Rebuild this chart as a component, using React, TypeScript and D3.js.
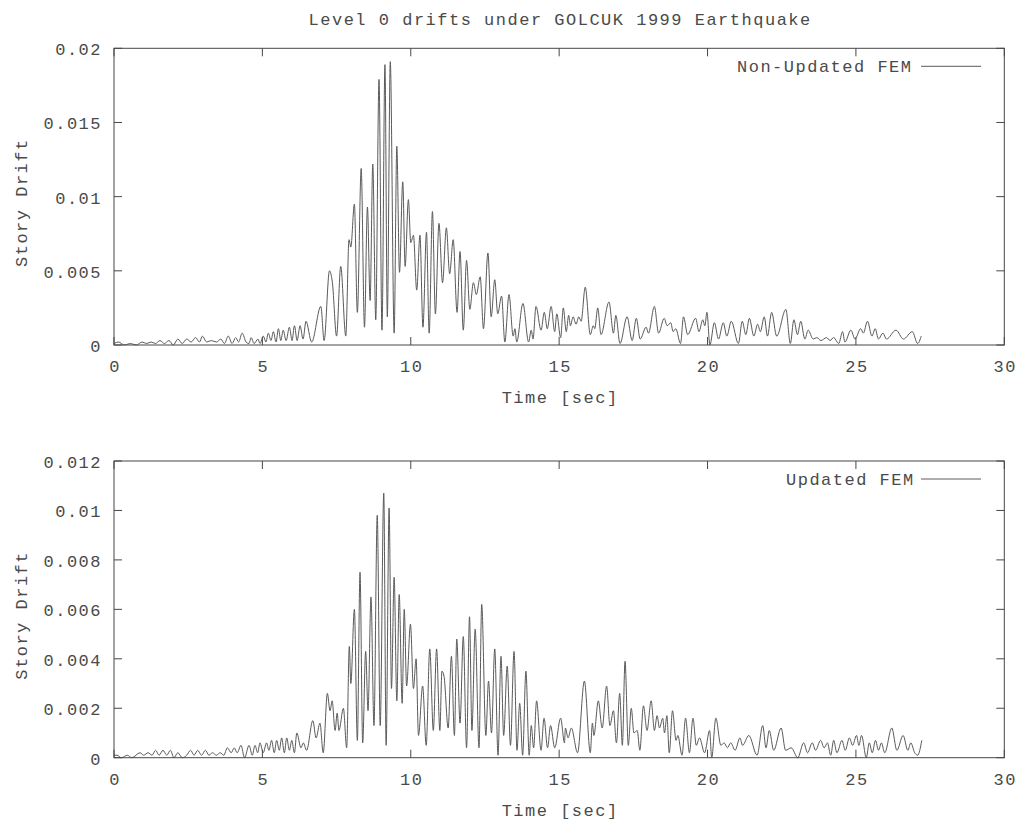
import React from "react";
import * as d3 from "d3";

const titleText = "Level 0 drifts under GOLCUK 1999 Earthquake";
const xLabelText = "Time [sec]";
const yLabelText = "Story Drift";
const xTickValues = [0, 5, 10, 15, 20, 25, 30];
const topYTicks = [0, 0.005, 0.01, 0.015, 0.02];
const topYTickLabels = ["0", "0.005", "0.01", "0.015", "0.02"];
const bottomYTicks = [0, 0.002, 0.004, 0.006, 0.008, 0.01, 0.012];
const bottomYTickLabels = ["0", "0.002", "0.004", "0.006", "0.008", "0.01", "0.012"];
const topSeriesName = "Non-Updated FEM";
const bottomSeriesName = "Updated FEM";

// Non-Updated FEM: local extrema (time in s, drift)
const topTime = [
  0.0, 0.15, 0.35, 0.55, 0.75, 0.95, 1.1, 1.25, 1.4, 1.55, 1.7, 1.85, 2.0, 2.15, 2.3, 2.45, 2.6, 2.75, 2.88, 2.98,
  3.12, 3.28, 3.45, 3.6, 3.72, 3.85, 3.98, 4.1, 4.2, 4.32, 4.45, 4.55, 4.62, 4.72, 4.85, 4.92, 5.03, 5.12, 5.2, 5.29,
  5.37, 5.46, 5.54, 5.62, 5.7, 5.8, 5.91, 6.0, 6.08, 6.17, 6.27, 6.37, 6.47, 6.66, 6.97, 7.08, 7.26, 7.36, 7.5, 7.64,
  7.81, 7.92, 7.98, 8.1, 8.2, 8.33, 8.44, 8.54, 8.63, 8.72, 8.82, 8.93, 9.03, 9.13, 9.21, 9.31, 9.44, 9.53, 9.62, 9.73,
  9.81, 9.92, 10.0, 10.09, 10.2, 10.31, 10.41, 10.53, 10.62, 10.73, 10.83, 10.95, 11.07, 11.2, 11.31, 11.43, 11.56, 11.66, 11.77, 11.88,
  11.99, 12.11, 12.21, 12.34, 12.45, 12.6, 12.71, 12.83, 12.93, 13.06, 13.17, 13.31, 13.45, 13.51, 13.57, 13.78, 13.97, 14.06, 14.12, 14.22,
  14.39, 14.5, 14.6, 14.73, 14.85, 14.92, 15.05, 15.14, 15.24, 15.32, 15.38, 15.47, 15.57, 15.66, 15.74, 15.88, 16.05, 16.15, 16.2, 16.3,
  16.41, 16.68, 16.83, 16.91, 17.05, 17.29, 17.46, 17.6, 17.73, 17.93, 18.01, 18.21, 18.35, 18.54, 18.64, 18.76, 18.84, 18.93, 19.09, 19.19,
  19.33, 19.6, 19.71, 19.84, 19.91, 19.98, 20.08, 20.23, 20.37, 20.53, 20.65, 20.8, 21.04, 21.17, 21.29, 21.41, 21.56, 21.69, 21.78, 21.91,
  22.02, 22.16, 22.33, 22.64, 22.79, 22.91, 23.03, 23.14, 23.28, 23.39, 23.56, 23.68, 23.82, 24.01, 24.13, 24.25, 24.42, 24.55, 24.63, 24.83,
  24.97, 25.16, 25.25, 25.39, 25.54, 25.65, 25.76, 25.91, 26.03, 26.35, 26.6, 26.9, 27.08, 27.2,
];
const topDrift = [
  0.0001, 0.0002, 0.0, 0.0001, 0.0, 0.0002, 0.0001, 0.0002, 0.0001, 0.0003, 0.0001, 0.0003, 0.0, 0.0004, 0.0001, 0.0004, 0.0002, 0.0005, 0.0002, 0.0006,
  0.0002, 0.0003, 0.0002, 0.0004, 0.0001, 0.0006, 0.0001, 0.0005, 0.0002, 0.0008, 0.0002, 0.0001, 0.0005, 0.0001, 0.0004, 0.0001, 0.0006, 0.0002, 0.0008, 0.0003,
  0.0009, 0.0002, 0.0011, 0.0003, 0.001, 0.0003, 0.0012, 0.0003, 0.0013, 0.0003, 0.0013, 0.0004, 0.0016, 0.0002, 0.0026, 0.0003, 0.005, 0.0042, 0.0006, 0.0053,
  0.0006, 0.0071, 0.0066, 0.0095, 0.0022, 0.0119, 0.0012, 0.0093, 0.003, 0.0122, 0.0017, 0.0179, 0.001, 0.0189, 0.0019, 0.0191, 0.0008, 0.0134, 0.0049, 0.011,
  0.0053, 0.0098, 0.0069, 0.0074, 0.0037, 0.0074, 0.0012, 0.0076, 0.0008, 0.009, 0.0021, 0.0082, 0.0042, 0.0079, 0.0048, 0.0071, 0.0022, 0.0063, 0.001, 0.0057,
  0.0024, 0.0042, 0.0034, 0.0046, 0.0011, 0.0062, 0.0019, 0.0044, 0.0021, 0.0033, 0.0002, 0.0034, 0.0006, 0.0011, 0.0002, 0.0028, 0.0002, 0.001, 0.0004, 0.0026,
  0.001, 0.0022, 0.0011, 0.0026, 0.0009, 0.0021, 0.0005, 0.0025, 0.0009, 0.002, 0.0013, 0.0019, 0.0014, 0.0019, 0.0016, 0.0039, 0.0007, 0.0013, 0.0011, 0.0025,
  0.0007, 0.0029, 0.0008, 0.002, 0.0001, 0.0019, 0.0003, 0.0018, 0.0004, 0.0012, 0.0008, 0.0026, 0.0008, 0.0018, 0.0013, 0.0015, 0.0009, 0.0011, 0.0001, 0.0019,
  0.0007, 0.0018, 0.0009, 0.0017, 0.0013, 0.0022, 0.0, 0.0015, 0.0004, 0.0015, 0.0006, 0.0016, 0.0001, 0.0016, 0.0007, 0.0018, 0.0006, 0.0014, 0.0009, 0.0019,
  0.0006, 0.0022, 0.0006, 0.0024, 0.0001, 0.0017, 0.0007, 0.0016, 0.0004, 0.001, 0.0004, 0.0005, 0.0003, 0.0005, 0.0003, 0.0005, 0.0001, 0.0009, 0.0002, 0.001,
  0.0004, 0.0011, 0.0008, 0.0016, 0.0006, 0.0011, 0.0004, 0.0008, 0.0004, 0.001, 0.0004, 0.0009, 0.0001, 0.0006,
];

// Updated FEM: local extrema (time in s, drift)
const bottomTime = [
  0.0, 0.1, 0.25, 0.45, 0.6, 0.88, 1.0, 1.15, 1.28, 1.4, 1.52, 1.65, 1.78, 1.9, 2.02, 2.15, 2.3, 2.45, 2.58, 2.7,
  2.82, 2.95, 3.08, 3.2, 3.32, 3.45, 3.58, 3.7, 3.82, 3.95, 4.05, 4.15, 4.28, 4.4, 4.55, 4.66, 4.75, 4.84, 4.92, 5.03,
  5.14, 5.22, 5.31, 5.4, 5.48, 5.57, 5.65, 5.74, 5.82, 5.91, 5.99, 6.08, 6.16, 6.3, 6.38, 6.49, 6.7, 6.81, 6.94, 7.05,
  7.19, 7.28, 7.35, 7.45, 7.52, 7.58, 7.73, 7.84, 7.93, 7.98, 8.1, 8.2, 8.29, 8.38, 8.48, 8.56, 8.66, 8.76, 8.87, 8.97,
  9.09, 9.17, 9.27, 9.35, 9.44, 9.53, 9.61, 9.71, 9.78, 9.86, 9.99, 10.09, 10.18, 10.26, 10.4, 10.52, 10.64, 10.76, 10.87, 10.98,
  11.05, 11.12, 11.26, 11.37, 11.47, 11.55, 11.66, 11.77, 11.88, 11.98, 12.06, 12.17, 12.3, 12.39, 12.53, 12.62, 12.72, 12.83, 12.94, 13.04,
  13.13, 13.25, 13.36, 13.48, 13.58, 13.67, 13.77, 13.88, 13.99, 14.06, 14.14, 14.24, 14.39, 14.49, 14.61, 14.71, 14.85, 15.05, 15.18, 15.21,
  15.3, 15.41, 15.62, 15.85, 16.05, 16.12, 16.17, 16.32, 16.45, 16.6, 16.71, 16.83, 16.93, 17.04, 17.13, 17.22, 17.33, 17.43, 17.52, 17.63,
  17.72, 17.84, 17.96, 18.1, 18.21, 18.3, 18.38, 18.49, 18.55, 18.63, 18.71, 18.82, 18.94, 19.0, 19.14, 19.26, 19.39, 19.51, 19.62, 19.73,
  19.9, 20.07, 20.14, 20.28, 20.45, 20.56, 20.67, 20.78, 20.93, 21.09, 21.18, 21.39, 21.67, 21.86, 21.97, 22.08, 22.23, 22.48, 22.63, 22.82,
  23.04, 23.24, 23.37, 23.53, 23.64, 23.81, 23.93, 24.04, 24.15, 24.25, 24.36, 24.53, 24.64, 24.78, 24.89, 25.02, 25.1, 25.19, 25.35, 25.45,
  25.55, 25.66, 25.76, 25.86, 25.97, 26.21, 26.38, 26.59, 26.75, 26.85, 26.98, 27.08, 27.22,
];
const bottomDrift = [
  0.0001, 0.0001, 0.0, 0.0001, 0.0, 0.0002, 0.0001, 0.0002, 0.0001, 0.0003, 0.0001, 0.0003, 0.0001, 0.0003, 0.0, 0.0002, 0.0, 0.0001, 0.0003, 0.0001,
  0.0003, 0.0001, 0.0003, 0.0001, 0.0002, 0.0001, 0.0002, 0.0001, 0.0004, 0.0002, 0.0004, 0.0002, 0.0005, 0.0, 0.0005, 0.0001, 0.0005, 0.0002, 0.0006, 0.0002,
  0.0006, 0.0003, 0.0007, 0.0002, 0.0007, 0.0003, 0.0008, 0.0002, 0.0008, 0.0003, 0.0007, 0.0002, 0.001, 0.0004, 0.0006, 0.0003, 0.0015, 0.0008, 0.0014, 0.0002,
  0.0026, 0.0019, 0.0023, 0.0011, 0.0018, 0.0011, 0.002, 0.0004, 0.0045, 0.003, 0.006, 0.0007, 0.0075, 0.0006, 0.0043, 0.0019, 0.0065, 0.0013, 0.0098, 0.0013,
  0.0107, 0.0005, 0.0101, 0.0028, 0.0073, 0.0023, 0.0066, 0.0022, 0.006, 0.0029, 0.0054, 0.0028, 0.004, 0.0009, 0.0029, 0.0005, 0.0044, 0.0011, 0.0044, 0.0011,
  0.0035, 0.0033, 0.0012, 0.0041, 0.0009, 0.0048, 0.0014, 0.0049, 0.0004, 0.0057, 0.0011, 0.0052, 0.0004, 0.0062, 0.0009, 0.0031, 0.001, 0.0044, 0.0001, 0.0041,
  0.0009, 0.0037, 0.0005, 0.0043, 0.0003, 0.0022, 0.0001, 0.0035, 0.0001, 0.0013, 0.0004, 0.0023, 0.0003, 0.0016, 0.0004, 0.0013, 0.0004, 0.0016, 0.0006, 0.0012,
  0.0008, 0.0012, 0.0002, 0.0031, 0.0002, 0.0014, 0.0009, 0.0023, 0.0012, 0.0029, 0.0013, 0.0019, 0.0006, 0.0026, 0.0005, 0.0039, 0.0005, 0.002, 0.001, 0.0011,
  0.0003, 0.0021, 0.0011, 0.0023, 0.0011, 0.0017, 0.0012, 0.0016, 0.001, 0.0017, 0.0002, 0.0019, 0.0007, 0.0009, 0.0001, 0.0016, 0.0002, 0.0016, 0.0005, 0.0008,
  0.0002, 0.0011, 0.0, 0.0016, 0.0005, 0.0006, 0.0004, 0.0006, 0.0003, 0.0008, 0.0005, 0.0009, 0.0001, 0.0013, 0.0004, 0.0011, 0.0003, 0.0012, 0.0003, 0.0004,
  0.0, 0.0006, 0.0002, 0.0006, 0.0003, 0.0007, 0.0004, 0.0006, 0.0001, 0.0007, 0.0002, 0.0007, 0.0003, 0.0008, 0.0005, 0.0009, 0.0005, 0.0009, 0.0, 0.0006,
  0.0002, 0.0007, 0.0003, 0.0006, 0.0002, 0.0012, 0.0003, 0.0009, 0.0003, 0.0006, 0.0002, 0.0001, 0.0007,
];

const W = 1032;
const H = 824;
const X0 = 114;
const X1 = 1004.3;
const FONT = "'Liberation Mono', 'DejaVu Sans Mono', monospace";
const TEXT_COLOR = "#4a4a4a";
const AXIS_COLOR = "#474747";
const LINE_COLOR = "#5a5a5a";
const TICK = 8;

type PanelProps = {
  top: number;
  bottom: number;
  ymax: number;
  yTicks: number[];
  yTickLabels: string[];
  times: number[];
  drifts: number[];
  name: string;
  nameX: number;
};

function Panel({ top, bottom, ymax, yTicks, yTickLabels, times, drifts, name, nameX }: PanelProps) {
  const x = d3.scaleLinear().domain([0, 30]).range([X0, X1]);
  const y = d3.scaleLinear().domain([0, ymax]).range([bottom, top]);
  const pts: [number, number][] = times.map((t, i) => [t, drifts[i]]);
  const line = d3
    .line<[number, number]>()
    .x((d) => x(d[0]))
    .y((d) => y(d[1]))
    .curve(d3.curveMonotoneX);
  const textStyle = { fontFamily: FONT, fontSize: 17, letterSpacing: 1.5, fill: TEXT_COLOR } as const;
  const midY = (top + bottom) / 2;
  return (
    <g>
      <path d={line(pts) || ""} fill="none" stroke={LINE_COLOR} strokeWidth={1} />
      <rect x={X0} y={top} width={X1 - X0} height={bottom - top} fill="none" stroke={AXIS_COLOR} strokeWidth={1} />
      {xTickValues.map((v) => (
        <g key={"xt" + v}>
          <line x1={x(v)} x2={x(v)} y1={bottom} y2={bottom - TICK} stroke={AXIS_COLOR} />
          <line x1={x(v)} x2={x(v)} y1={top} y2={top + TICK} stroke={AXIS_COLOR} />
          <text x={x(v) + 1} y={bottom + 27} textAnchor="middle" style={textStyle}>
            {String(v)}
          </text>
        </g>
      ))}
      {yTicks.map((v, i) => (
        <g key={"yt" + v}>
          <line x1={X0} x2={X0 + TICK} y1={y(v)} y2={y(v)} stroke={AXIS_COLOR} />
          <line x1={X1} x2={X1 - TICK} y1={y(v)} y2={y(v)} stroke={AXIS_COLOR} />
          <text x={102} y={y(v) + 7} textAnchor="end" style={textStyle}>
            {yTickLabels[i]}
          </text>
        </g>
      ))}
      <text x={(X0 + X1) / 2 + 1} y={bottom + 58} textAnchor="middle" style={textStyle}>
        {xLabelText}
      </text>
      <text
        transform={`translate(27, ${midY + 6}) rotate(-90)`}
        textAnchor="middle"
        style={textStyle}
      >
        {yLabelText}
      </text>
      <text x={nameX} y={top + 24} textAnchor="start" style={textStyle}>
        {name}
      </text>
      <line x1={921} x2={981} y1={top + 18} y2={top + 18} stroke={LINE_COLOR} strokeWidth={1} />
    </g>
  );
}

export default function App() {
  return (
    <svg
      width={W}
      height={H}
      viewBox={`0 0 ${W} ${H}`}
      style={{ position: "absolute", left: 0, top: 0, background: "#fff" }}
    >
      <rect x={0} y={0} width={W} height={H} fill="#fff" />
      <text
        x={(X0 + X1) / 2 + 1}
        y={25}
        textAnchor="middle"
        style={{ fontFamily: FONT, fontSize: 17, letterSpacing: 1.5, fill: TEXT_COLOR }}
      >
        {titleText}
      </text>
      <Panel
        top={48.3}
        bottom={345}
        ymax={0.02}
        yTicks={topYTicks}
        yTickLabels={topYTickLabels}
        times={topTime}
        drifts={topDrift}
        name={topSeriesName}
        nameX={737}
      />
      <Panel
        top={461}
        bottom={757.7}
        ymax={0.012}
        yTicks={bottomYTicks}
        yTickLabels={bottomYTickLabels}
        times={bottomTime}
        drifts={bottomDrift}
        name={bottomSeriesName}
        nameX={786}
      />
    </svg>
  );
}
